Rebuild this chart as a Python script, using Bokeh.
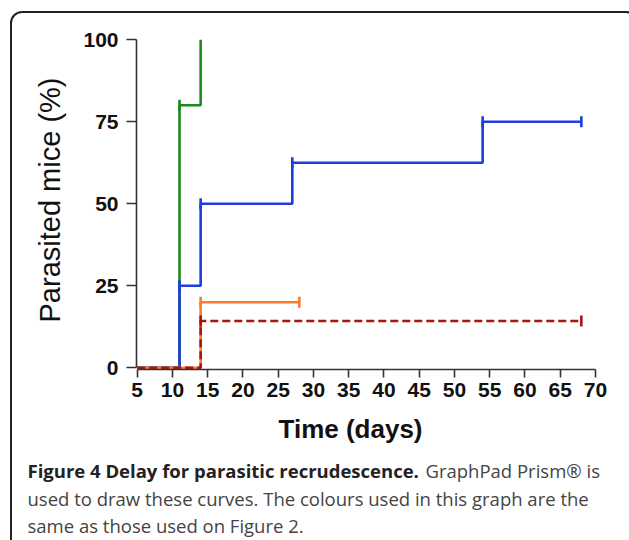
import math
from bokeh.plotting import figure
from bokeh.models import Range1d, FixedTicker, Label
from bokeh.embed import file_html
from bokeh.resources import INLINE

# ---- data ----
x_ticks = [5, 10, 15, 20, 25, 30, 35, 40, 45, 50, 55, 60, 65, 70]
y_ticks = [0, 25, 50, 75, 100]

green_t = [5, 11, 14]
green_v = [0, 80, 100]
green_ct = [11]
green_cv = [80]

blue_t = [5, 11, 14, 27, 54, 68]
blue_v = [0, 25, 50, 62.5, 75, 75]
blue_ct = [11, 14, 27, 54, 68]
blue_cv = [25, 50, 62.5, 75, 75]

orange_t = [5, 14, 28]
orange_v = [0, 20, 20]
orange_ct = [14, 28]
orange_cv = [20, 20]

red_t = [5, 14, 68]
red_v = [0, 14.3, 14.3]
red_ct = [14, 68]
red_cv = [14.3, 14.3]

x_title = "Time (days)"
y_title = "Parasited mice (%)"
cap_bold = "Figure 4 Delay for parasitic recrudescence."
cap_rest1 = "GraphPad Prism® is"
cap_line2 = "used to draw these curves. The colours used in this graph are the"
cap_line3 = "same as those used on Figure 2."

# ---- layout constants (pixels) ----
W, H = 629, 540
MB_L, MB_R, MB_T, MB_B = 136, 27, 30, 171
X0, X1 = 4.9, 71.0
Y0, Y1 = -0.5, 102.8
FRAME_W = W - MB_L - MB_R
FRAME_H = H - MB_T - MB_B
TXT_DY = -7  # empirical correction for label baseline placement

# rounded panel frame drawn with CSS (does not affect the plot layout)
frame_css = """
:host { position: relative; overflow: hidden; }
:host::after {
  content: "";
  position: absolute;
  left: 10px; top: 11px; width: 628px; height: 540px;
  border: 2px solid #222222; border-radius: 12px;
  box-sizing: border-box; pointer-events: none; z-index: 10;
}
"""


def px_to_x(px):
    return X0 + (px - MB_L) * (X1 - X0) / FRAME_W


def py_to_y(py):
    return Y0 + (H - MB_B - py) * (Y1 - Y0) / FRAME_H


p = figure(width=W, height=H, x_range=Range1d(X0, X1), y_range=Range1d(Y0, Y1),
           output_backend="svg", toolbar_location=None,
           min_border_left=MB_L, min_border_right=MB_R, min_border_top=MB_T, min_border_bottom=MB_B,
           stylesheets=[frame_css])
p.outline_line_color = None
p.background_fill_color = "white"
p.border_fill_color = "white"
p.grid.visible = False

for ax in (p.xaxis[0], p.yaxis[0]):
    ax.axis_line_color = "#333333"
    ax.axis_line_width = 1.6
    ax.major_tick_line_color = "#333333"
    ax.major_tick_line_width = 1.6
    ax.major_tick_in = 0
    ax.minor_tick_line_color = None
    ax.major_label_text_font = "Liberation Sans"
    ax.major_label_text_font_style = "bold"
    ax.major_label_text_color = "#111111"

p.xaxis.ticker = FixedTicker(ticks=x_ticks)
p.yaxis.ticker = FixedTicker(ticks=y_ticks)
p.xaxis.bounds = (x_ticks[0], x_ticks[-1])
p.yaxis.bounds = (y_ticks[0], y_ticks[-1])
p.xaxis.major_tick_out = 8
p.yaxis.major_tick_out = 10
p.xaxis.major_label_text_font_size = "21px"
p.yaxis.major_label_text_font_size = "21px"
p.xaxis.major_label_standoff = 5
p.yaxis.major_label_standoff = 8

p.yaxis.axis_label = y_title
p.yaxis.axis_label_text_font = "Liberation Sans"
p.yaxis.axis_label_text_font_style = "normal"
p.yaxis.axis_label_text_font_size = "29px"
p.yaxis.axis_label_text_color = "#111111"
p.yaxis.axis_label_standoff = 14

LW = 2.6
series = [
    (green_t, green_v, green_ct, green_cv, "#1e8a1e", "solid"),
    (blue_t, blue_v, blue_ct, blue_cv, "#1f3ddc", "solid"),
    (orange_t, orange_v, orange_ct, orange_cv, "#ff7a2e", "solid"),
    (red_t, red_v, red_ct, red_cv, "#a3170e", "8 4"),
]
for t, v, ct, cv, col, dash in series:
    p.step(t, v, mode="after", line_color=col, line_width=LW, line_dash=dash)
    p.scatter(ct, cv, marker="dash", angle=math.pi / 2, size=11,
              line_color=col, line_width=LW)


def below_label(px, py, text, font, size, style, color, align="left"):
    p.add_layout(Label(x=px_to_x(px), y=py_to_y(py + TXT_DY), text=text,
                       text_font=font, text_font_style=style, text_font_size=size,
                       text_color=color, text_align=align, text_baseline="alphabetic"), "below")


# x-axis title
below_label(350, 435, x_title, "Liberation Sans", "26px", "bold", "#111111", "center")

# caption
cap_font = "Open Sans"
cap_size = "18.5px"
below_label(27, 476.5, cap_bold, cap_font, cap_size, "bold", "#222222")
below_label(425, 476.5, cap_rest1, cap_font, cap_size, "normal", "#444444")
below_label(27, 504.5, cap_line2, cap_font, cap_size, "normal", "#444444")
below_label(27, 531.5, cap_line3, cap_font, cap_size, "normal", "#444444")

open("out.html", "w").write(file_html(p, INLINE))
